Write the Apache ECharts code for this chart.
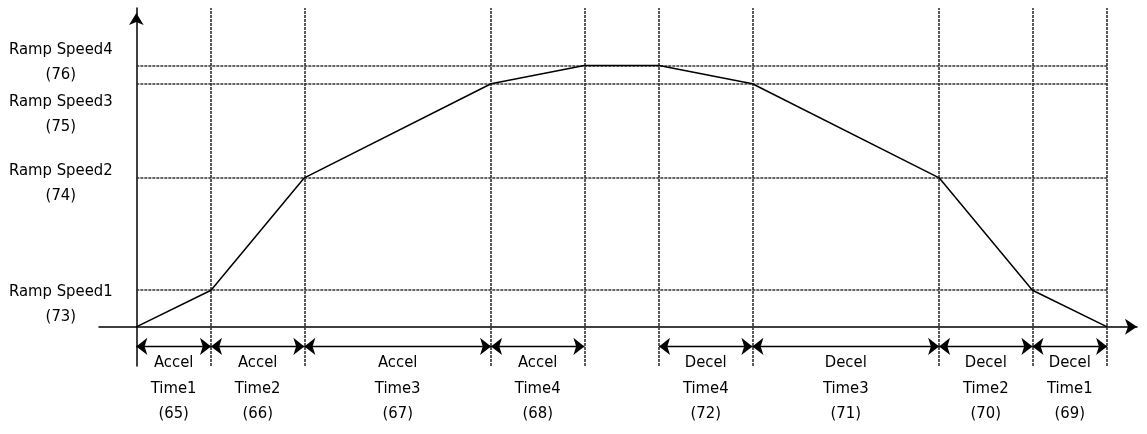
<!DOCTYPE html>
<html>
<head>
<meta charset="utf-8">
<script src="https://cdn.jsdelivr.net/npm/echarts@6/dist/echarts.min.js"></script>
<style>
  html, body { margin: 0; padding: 0; background: #fff; }
  #chart { width: 1147px; height: 434px; }
</style>
</head>
<body>
<div id="chart"></div>
<script>
// phase boundaries (time units) and the speed reached there (% of Ramp Speed4)
const phaseTimes = [0, 0.8, 1.8, 3.8, 4.8, 5.6, 6.6, 8.6, 9.6, 10.4];
const phaseSpeeds = [0, 14, 57, 93, 100, 100, 93, 57, 14, 0];

// ramp speed levels
const rampSpeeds = [14, 57, 93, 100];
const rampLabels = ['Ramp Speed1\n(73)', 'Ramp Speed2\n(74)', 'Ramp Speed3\n(75)', 'Ramp Speed4\n(76)'];

// dimensioned time intervals
const spanStarts = [0, 0.8, 1.8, 3.8, 5.6, 6.6, 8.6, 9.6];
const spanEnds = [0.8, 1.8, 3.8, 4.8, 6.6, 8.6, 9.6, 10.4];
const spanLabels = [
  'Accel\nTime1\n(65)', 'Accel\nTime2\n(66)', 'Accel\nTime3\n(67)', 'Accel\nTime4\n(68)',
  'Decel\nTime4\n(72)', 'Decel\nTime3\n(71)', 'Decel\nTime2\n(70)', 'Decel\nTime1\n(69)',
];

const FONT = "'Liberation Sans Narrow', 'DejaVu Sans Condensed', 'Roboto', sans-serif";
// vertical nudge (px) of each ramp label relative to its level line
const rampLabelShift = [14, 6, 31, -2.5];
const dimY = -7.5;

const gridStyle = { color: '#333', width: 1.6, type: [3, 1] };
const tEnd = phaseTimes[phaseTimes.length - 1];

const chart = echarts.init(document.getElementById('chart'));

chart.setOption({
  animation: false,
  backgroundColor: '#fff',
  grid: { left: 99, right: 10, top: 8, bottom: 68 },
  xAxis: {
    type: 'value',
    min: -0.4,
    max: 10.72,
    axisLine: {
      onZero: true,
      symbol: ['none', 'arrow'],
      symbolSize: [12, 12],
      lineStyle: { color: '#000', width: 1.5 },
    },
    axisTick: { show: false },
    axisLabel: { show: false },
    splitLine: { show: false },
  },
  yAxis: {
    type: 'value',
    min: -15,
    max: 122,
    axisLine: {
      onZero: true,
      symbol: ['none', 'arrow'],
      symbolSize: [11, 12],
      symbolOffset: [0, -5],
      lineStyle: { color: '#000', width: 1.5 },
    },
    axisTick: { show: false },
    axisLabel: { show: false },
    splitLine: { show: false },
  },
  series: [
    {
      // phase boundaries
      type: 'line',
      data: [],
      silent: true,
      markLine: {
        silent: true,
        symbol: ['none', 'none'],
        label: { show: false },
        lineStyle: gridStyle,
        data: phaseTimes.slice(1).map((t) => ({ xAxis: t })),
      },
    },
    {
      // ramp speed levels
      type: 'line',
      data: [],
      silent: true,
      markLine: {
        silent: true,
        symbol: ['none', 'none'],
        label: { show: false },
        lineStyle: gridStyle,
        data: rampSpeeds.map((s) => [{ coord: [0, s] }, { coord: [tEnd, s] }]),
      },
    },
    {
      // dimension arrows
      type: 'line',
      data: [],
      silent: true,
      markLine: {
        silent: true,
        symbol: ['arrow', 'arrow'],
        symbolSize: [13, 11],
        lineStyle: { color: '#000', width: 1.4, type: 'solid' },
        label: {
          show: true,
          position: 'insideMiddleBottom',
          distance: 4,
          fontFamily: FONT,
          fontSize: 16.5,
          lineHeight: 25.5,
          color: '#000',
          align: 'center',
          formatter: (p) => p.name,
        },
        data: spanStarts.map((s, i) => [
          { coord: [s, dimY], name: spanLabels[i] },
          { coord: [spanEnds[i], dimY] },
        ]),
      },
    },
    {
      // speed profile
      type: 'line',
      data: phaseTimes.map((t, i) => [t, phaseSpeeds[i]]),
      showSymbol: false,
      silent: true,
      lineStyle: { color: '#000', width: 1.5 },
      z: 5,
    },
    {
      // ramp speed labels
      type: 'scatter',
      silent: true,
      symbolSize: 1,
      itemStyle: { color: 'transparent', opacity: 1 },
      label: {
        show: true,
        fontFamily: FONT,
        fontSize: 16.5,
        lineHeight: 25,
        color: '#000',
        align: 'center',
        verticalAlign: 'middle',
        formatter: (p) => rampLabels[p.dataIndex],
      },
      data: rampSpeeds.map((s, i) => ({
        value: [0, s],
        label: { position: [-75, rampLabelShift[i]] },
      })),
    },
  ],
});
</script>
</body>
</html>
